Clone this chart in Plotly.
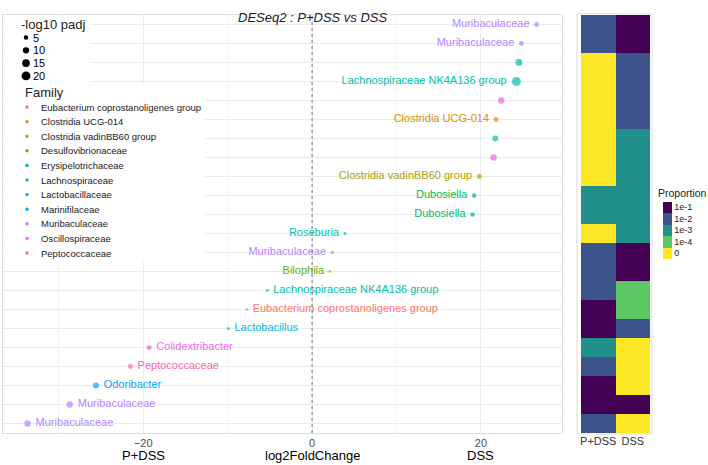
import numpy as np
import plotly.graph_objects as go

W, H = 708, 465

# rows of the DESeq2 table, top to bottom
genus = [
    "Muribaculaceae", "Muribaculaceae", "", "Lachnospiraceae NK4A136 group", "",
    "Clostridia UCG-014", "", "", "Clostridia vadinBB60 group", "Dubosiella",
    "Dubosiella", "Roseburia", "Muribaculaceae", "Bilophila",
    "Lachnospiraceae NK4A136 group", "Eubacterium coprostanoligenes group",
    "Lactobacillus", "Colidextribacter", "Peptococcaceae", "Odoribacter",
    "Muribaculaceae", "Muribaculaceae",
]
family = [
    "Muribaculaceae", "Muribaculaceae", "Lachnospiraceae", "Lachnospiraceae",
    "Oscillospiraceae", "Clostridia UCG-014", "Lachnospiraceae", "Oscillospiraceae",
    "Clostridia vadinBB60 group", "Erysipelotrichaceae", "Erysipelotrichaceae",
    "Lachnospiraceae", "Muribaculaceae", "Desulfovibrionaceae", "Lachnospiraceae",
    "Eubacterium coprostanoligenes group", "Lactobacillaceae", "Oscillospiraceae",
    "Peptococcaceae", "Marinifilaceae", "Muribaculaceae", "Muribaculaceae",
]
log2fc = [26.6, 24.8, 24.5, 24.2, 22.4, 21.8, 21.7, 21.5, 19.8, 19.2, 19.0,
          3.9, 2.4, 2.1, -5.3, -7.7, -9.9, -19.3, -21.5, -25.6, -28.7, -33.7]
neglog10_padj = [6, 6, 12, 20, 10.5, 6, 9, 10.5, 6, 5, 5,
                 2.3, 3, 1.6, 2.2, 1.6, 2.3, 6.5, 6, 9, 10.5, 10.5]
prop_pdss = ["1e-2", "1e-2", "0", "0", "0", "0", "0", "0", "0", "1e-3", "1e-3",
             "0", "1e-2", "1e-2", "1e-2", "1e-1", "1e-1", "1e-3", "1e-2", "1e-1",
             "1e-1", "1e-2"]
prop_dss = ["1e-1", "1e-1", "1e-2", "1e-2", "1e-2", "1e-2", "1e-3", "1e-3", "1e-3",
            "1e-3", "1e-3", "1e-3", "1e-1", "1e-1", "1e-4", "1e-4", "1e-2", "0",
            "0", "0", "1e-1", "0"]

families = [
    "Eubacterium coprostanoligenes group", "Clostridia UCG-014",
    "Clostridia vadinBB60 group", "Desulfovibrionaceae", "Erysipelotrichaceae",
    "Lachnospiraceae", "Lactobacillaceae", "Marinifilaceae", "Muribaculaceae",
    "Oscillospiraceae", "Peptococcaceae",
]
family_colors = ["#F8766D", "#DB8E00", "#AEA200", "#64B200", "#00BD5C", "#00C1A7",
                 "#00BADE", "#00A6FF", "#B385FF", "#EF67EB", "#FF63B6"]
size_breaks = [5, 10, 15, 20]
prop_levels = ["0", "1e-4", "1e-3", "1e-2", "1e-1"]
prop_colors = ["#FDE725", "#5DC863", "#21908C", "#3B528B", "#440154"]
groups = ["P+DSS", "DSS"]

FONT = "Liberation Sans, Arial, sans-serif"
NB = "\u00a0"


def px(x):
    return x / W


def py(y):
    return 1 - y / H


def dot_size(v):
    return 2 * np.sqrt(v)


n = len(genus)
rows = np.arange(n, 0, -1)
fam_col = dict(zip(families, family_colors))
colors = [fam_col[f] for f in family]
labels = [g + NB if v > 0 else NB + g for g, v in zip(genus, log2fc)]

fig = go.Figure()

fig.add_trace(
    go.Scatter(
        x=log2fc,
        y=rows,
        mode="markers+text",
        text=labels,
        textposition=["middle left" if v > 0 else "middle right" for v in log2fc],
        textfont=dict(color=colors, size=11, family=FONT),
        marker=dict(color=colors, size=[dot_size(v) for v in neglog10_padj], line_width=0),
        showlegend=False,
        xaxis="x",
        yaxis="y",
    )
)

code = {lv: i for i, lv in enumerate(prop_levels)}
z = [[code[a], code[b]] for a, b in zip(prop_pdss, prop_dss)]
scale = []
for i, c in enumerate(prop_colors):
    scale += [[i / len(prop_colors), c], [(i + 1) / len(prop_colors), c]]
fig.add_trace(
    go.Heatmap(
        z=z,
        x=[0, 1],
        y=rows,
        zmin=-0.5,
        zmax=4.5,
        colorscale=scale,
        xaxis="x2",
        yaxis="y2",
        colorbar=dict(
            tickvals=list(range(len(prop_levels))),
            ticktext=prop_levels,
            tickfont=dict(size=9, color="#222"),
            ticks="",
            outlinewidth=0,
            thickness=9,
            thicknessmode="pixels",
            len=57,
            lenmode="pixels",
            x=px(663),
            xanchor="left",
            y=py(230),
            yanchor="middle",
            xpad=0,
            ypad=0,
        ),
    )
)

grid = "#EBEBEB"
fig.update_layout(
    width=W,
    height=H,
    margin=dict(l=0, r=0, t=0, b=0, autoexpand=False),
    paper_bgcolor="white",
    plot_bgcolor="white",
    font=dict(family=FONT, color="#222"),
    xaxis=dict(
        domain=[px(3), px(562)],
        range=[-36.6, 29.6],
        tickvals=[-20, 0, 20],
        tickfont=dict(size=11, color="#4D4D4D"),
        showgrid=True,
        gridcolor=grid,
        minor=dict(tickvals=[-30, -10, 10], showgrid=True, gridcolor="#F4F4F4"),
        zeroline=False,
        showline=True,
        mirror=True,
        linecolor="#DDDDDD",
        ticks="",
        automargin=False,
    ),
    yaxis=dict(
        domain=[py(433), py(15)],
        range=[0.5, n + 0.5],
        tickvals=list(rows),
        showticklabels=False,
        showgrid=True,
        gridcolor=grid,
        zeroline=False,
        showline=True,
        mirror=True,
        linecolor="#DDDDDD",
        automargin=False,
    ),
    xaxis2=dict(
        domain=[px(581), px(650)],
        range=[-0.5, 1.5],
        tickvals=[0, 1],
        ticktext=groups,
        tickfont=dict(size=11, color="#333"),
        showgrid=False,
        zeroline=False,
        anchor="y2",
        automargin=False,
    ),
    yaxis2=dict(
        domain=[py(433), py(15)],
        range=[0.5, n + 0.5],
        showticklabels=False,
        showgrid=False,
        zeroline=False,
        anchor="x2",
        automargin=False,
    ),
)

fig.add_vline(x=0, line_dash="dot", line_color="#777777", line_width=1)

# heatmap panel border
fig.add_shape(type="rect", xref="paper", yref="paper", x0=px(577), x1=px(652),
              y0=py(434), y1=py(14), line=dict(color="#DDDDDD", width=1))

# white legend boxes inside the panel
fig.add_shape(type="rect", xref="paper", yref="paper", x0=px(4), x1=px(90),
              y0=py(84), y1=py(16), fillcolor="white", line_width=0, layer="above")
fig.add_shape(type="rect", xref="paper", yref="paper", x0=px(4), x1=px(205),
              y0=py(262), y1=py(84), fillcolor="white", line_width=0, layer="above")

fig.add_annotation(text="-log10 padj", x=px(19), y=py(25), xref="paper", yref="paper",
                   xanchor="left", yanchor="middle", showarrow=False, font=dict(size=13))
for i, s in enumerate(size_breaks):
    yy = 37.5 + 12.8 * i
    r = dot_size(s) / 2
    fig.add_shape(type="circle", xref="paper", yref="paper", xsizemode="pixel",
                  ysizemode="pixel", xanchor=px(26), yanchor=py(yy), x0=-r, x1=r,
                  y0=-r, y1=r, fillcolor="black", line_width=0, layer="above")
    fig.add_annotation(text=str(s), x=px(31), y=py(yy), xref="paper", yref="paper",
                       xanchor="left", yanchor="middle", showarrow=False,
                       font=dict(size=11, color="black"))

fig.add_annotation(text="Family", x=px(23), y=py(92), xref="paper", yref="paper",
                   xanchor="left", yanchor="middle", showarrow=False, font=dict(size=13))
for i, (f, c) in enumerate(zip(families, family_colors)):
    yy = 107 + 14.6 * i
    fig.add_shape(type="circle", xref="paper", yref="paper", xsizemode="pixel",
                  ysizemode="pixel", xanchor=px(27), yanchor=py(yy), x0=-1.7, x1=1.7,
                  y0=-1.7, y1=1.7, fillcolor=c, line_width=0, layer="above")
    fig.add_annotation(text=f, x=px(39), y=py(yy), xref="paper", yref="paper",
                       xanchor="left", yanchor="middle", showarrow=False,
                       font=dict(size=9.5, color="#1A1A1A"))

fig.add_annotation(text="Proportion", x=px(656), y=py(193), xref="paper", yref="paper",
                   xanchor="left", yanchor="middle", showarrow=False, font=dict(size=10.5))
fig.add_annotation(text="<i>DESeq2 : P+DSS vs DSS</i>", x=px(313), y=py(8),
                   xref="paper", yref="paper", showarrow=False, font=dict(size=13))
for xv, lab in [(-20, "P+DSS"), (0, "log2FoldChange"), (20, "DSS")]:
    fig.add_annotation(text=lab, x=xv, y=py(455), xref="x", yref="paper",
                       showarrow=False, yanchor="middle", font=dict(size=13, color="black"))

# drop the browser's default page margin so the 708x465 figure fills the window
fig.write_html(
    "out.html",
    config={"displayModeBar": False},
    post_script="document.body.style.margin = '0';",
)
